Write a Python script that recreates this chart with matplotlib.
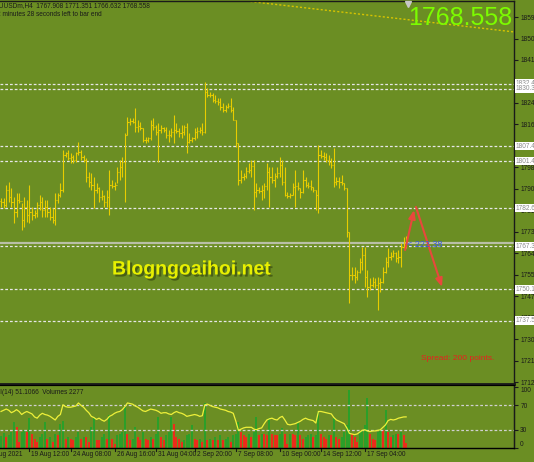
import matplotlib
matplotlib.use("Agg")
import numpy as np
import matplotlib.pyplot as plt
import matplotlib.patheffects as pe
from matplotlib.transforms import blended_transform_factory, offset_copy

# ---- data (XAUUSDm, H4) ----
bar_open = [
    1785.5, 1785.0, 1784.0, 1790.0, 1787.0, 1785.0, 1781.0, 1786.0, 1785.5, 1778.0,
    1783.0, 1780.0, 1781.0, 1780.0, 1780.5, 1784.0, 1785.0, 1782.0, 1783.0, 1781.0,
    1779.0, 1778.0, 1786.0, 1788.0, 1790.0, 1804.0, 1804.5, 1802.5, 1803.0, 1802.0,
    1804.5, 1805.0, 1803.0, 1802.0, 1795.0, 1793.0, 1792.0, 1790.0, 1790.5, 1787.0,
    1787.5, 1785.0, 1787.0, 1792.0, 1791.5, 1792.0, 1797.0, 1799.0, 1801.0, 1812.0,
    1817.0, 1817.5, 1817.0, 1815.0, 1815.5, 1814.5, 1810.0, 1810.0, 1810.5, 1816.0,
    1815.0, 1813.0, 1814.0, 1814.5, 1814.0, 1812.0, 1812.0, 1813.0, 1814.0, 1813.5,
    1812.5, 1813.0, 1815.0, 1809.0, 1810.0, 1810.5, 1813.0, 1813.5, 1814.0, 1813.0,
    1829.0, 1828.0, 1828.0, 1826.0, 1825.5, 1825.0, 1823.0, 1822.0, 1823.0, 1823.5,
    1822.0, 1818.0, 1808.5, 1794.0, 1795.0, 1795.5, 1797.5, 1798.0, 1799.5, 1789.0,
    1790.0, 1789.5, 1790.0, 1791.5, 1797.0, 1795.0, 1794.0, 1795.5, 1796.5, 1800.0,
    1793.0, 1788.0, 1787.5, 1788.0, 1791.0, 1791.5, 1790.5, 1789.0, 1794.0, 1792.0,
    1791.5, 1791.0, 1790.0, 1788.0, 1804.0, 1803.5, 1803.0, 1802.0, 1801.0, 1800.0,
    1793.0, 1793.5, 1793.0, 1792.5, 1790.5, 1773.0, 1756.0, 1756.0, 1755.0, 1757.0,
    1761.0, 1764.0, 1755.0, 1751.0, 1752.0, 1753.0, 1752.0, 1752.5, 1753.0, 1757.0,
    1761.0, 1763.0, 1763.5, 1764.5, 1762.5, 1763.0, 1767.0, 1767.908,
]
bar_high = [
    1786.5, 1786.5, 1791.8, 1793.1, 1790.5, 1787.1, 1788.5, 1788.5, 1784.5, 1787.1,
    1785.8, 1791.8, 1783.1, 1781.8, 1785.1, 1787.8, 1787.1, 1785.8, 1785.8, 1783.1,
    1782.5, 1788.5, 1788.5, 1792.5, 1805.8, 1805.1, 1805.8, 1804.5, 1803.8, 1805.1,
    1809.1, 1805.8, 1803.8, 1802.5, 1797.1, 1796.5, 1795.1, 1792.5, 1791.1, 1789.8,
    1787.8, 1789.8, 1797.8, 1793.8, 1793.1, 1799.1, 1801.8, 1803.1, 1812.5, 1819.1,
    1818.5, 1818.5, 1822.5, 1817.8, 1817.1, 1814.5, 1811.1, 1811.1, 1817.8, 1818.5,
    1815.8, 1816.5, 1815.8, 1815.1, 1815.1, 1813.8, 1814.5, 1819.8, 1816.5, 1814.5,
    1815.8, 1815.8, 1816.5, 1812.5, 1811.1, 1814.5, 1815.1, 1815.1, 1816.5, 1833.1,
    1830.5, 1829.1, 1828.5, 1827.8, 1826.5, 1826.5, 1824.5, 1823.8, 1824.5, 1826.5,
    1823.1, 1818.0, 1808.5, 1797.8, 1796.5, 1799.1, 1800.5, 1801.8, 1801.8, 1792.5,
    1791.1, 1791.8, 1792.5, 1800.5, 1799.1, 1799.1, 1796.5, 1799.1, 1803.1, 1801.8,
    1799.1, 1789.1, 1788.5, 1792.5, 1797.8, 1793.1, 1790.5, 1797.8, 1795.1, 1793.1,
    1793.8, 1791.1, 1789.8, 1807.8, 1805.8, 1805.1, 1804.5, 1803.8, 1802.5, 1806.5,
    1795.1, 1795.1, 1795.8, 1792.8, 1790.5, 1773.0, 1759.1, 1759.1, 1757.8, 1762.5,
    1767.1, 1767.1, 1757.8, 1754.5, 1755.1, 1754.5, 1755.1, 1754.5, 1759.1, 1763.1,
    1766.5, 1765.1, 1765.8, 1765.1, 1765.8, 1768.5, 1771.1, 1771.351,
]
bar_low = [
    1783.1, 1782.5, 1783.1, 1785.1, 1783.1, 1776.5, 1779.1, 1784.5, 1773.8, 1775.1,
    1777.1, 1776.5, 1777.8, 1778.5, 1779.1, 1781.8, 1779.1, 1779.1, 1779.1, 1777.8,
    1776.5, 1775.8, 1784.5, 1787.1, 1789.1, 1803.1, 1801.8, 1800.5, 1800.5, 1801.1,
    1803.8, 1801.8, 1801.1, 1793.1, 1791.1, 1789.8, 1782.5, 1788.5, 1785.1, 1785.8,
    1783.1, 1783.1, 1779.8, 1790.5, 1789.8, 1792.5, 1793.8, 1795.1, 1785.1, 1812.0,
    1815.8, 1816.5, 1813.1, 1813.1, 1813.8, 1809.1, 1808.5, 1809.1, 1809.8, 1813.8,
    1811.8, 1801.1, 1812.5, 1813.1, 1810.5, 1809.1, 1811.1, 1808.5, 1812.5, 1811.1,
    1810.5, 1811.8, 1804.5, 1808.5, 1809.1, 1809.8, 1810.5, 1812.5, 1811.8, 1812.5,
    1827.1, 1827.1, 1825.1, 1824.5, 1823.8, 1821.8, 1821.1, 1821.1, 1822.5, 1821.1,
    1817.8, 1807.1, 1791.8, 1792.5, 1793.8, 1794.5, 1796.5, 1795.1, 1781.8, 1787.1,
    1788.5, 1785.8, 1786.5, 1789.8, 1783.1, 1792.5, 1791.1, 1794.5, 1795.1, 1791.8,
    1787.5, 1786.5, 1786.5, 1787.8, 1783.1, 1789.8, 1786.5, 1788.5, 1791.1, 1790.5,
    1789.8, 1789.1, 1781.8, 1780.5, 1802.5, 1801.8, 1801.1, 1799.8, 1798.5, 1791.1,
    1791.8, 1790.5, 1791.8, 1789.8, 1771.1, 1744.5, 1753.8, 1752.5, 1753.8, 1756.5,
    1757.8, 1751.1, 1747.1, 1749.8, 1751.1, 1750.5, 1741.8, 1749.1, 1752.8, 1756.8,
    1759.1, 1761.8, 1763.1, 1761.1, 1760.5, 1759.1, 1766.5, 1766.632,
]
bar_close = [
    1785.0, 1784.0, 1790.0, 1787.0, 1785.0, 1781.0, 1786.0, 1785.5, 1778.0, 1783.0,
    1780.0, 1781.0, 1780.0, 1780.5, 1784.0, 1785.0, 1782.0, 1783.0, 1781.0, 1779.0,
    1778.0, 1786.0, 1788.0, 1790.0, 1804.0, 1804.5, 1802.5, 1803.0, 1802.0, 1804.5,
    1805.0, 1803.0, 1802.0, 1795.0, 1793.0, 1792.0, 1790.0, 1790.5, 1787.0, 1787.5,
    1785.0, 1787.0, 1792.0, 1791.5, 1792.0, 1797.0, 1799.0, 1801.0, 1812.0, 1817.0,
    1817.5, 1817.0, 1815.0, 1815.5, 1814.5, 1810.0, 1810.0, 1810.5, 1816.0, 1815.0,
    1813.0, 1814.0, 1814.5, 1814.0, 1812.0, 1812.0, 1813.0, 1814.0, 1813.5, 1812.5,
    1813.0, 1815.0, 1809.0, 1810.0, 1810.5, 1813.0, 1813.5, 1814.0, 1813.0, 1829.0,
    1828.0, 1828.0, 1826.0, 1825.5, 1825.0, 1823.0, 1822.0, 1823.0, 1823.5, 1822.0,
    1818.0, 1808.5, 1794.0, 1795.0, 1795.5, 1797.5, 1798.0, 1799.5, 1789.0, 1790.0,
    1789.5, 1790.0, 1791.5, 1797.0, 1795.0, 1794.0, 1795.5, 1796.5, 1800.0, 1793.0,
    1788.0, 1787.5, 1788.0, 1791.0, 1791.5, 1790.5, 1789.0, 1794.0, 1792.0, 1791.5,
    1791.0, 1790.0, 1788.0, 1804.0, 1803.5, 1803.0, 1802.0, 1801.0, 1800.0, 1793.0,
    1793.5, 1793.0, 1792.5, 1790.5, 1773.0, 1756.0, 1756.0, 1755.0, 1757.0, 1761.0,
    1764.0, 1755.0, 1751.0, 1752.0, 1753.0, 1752.0, 1752.5, 1753.0, 1757.0, 1761.0,
    1763.0, 1763.5, 1764.5, 1762.5, 1763.0, 1767.0, 1767.908, 1768.558,
]
volumes = [
    5810, 7260, 5320, 6290, 7740, 12580, 10160, 2900, 7740, 8710,
    7740, 14520, 6780, 4360, 2900, 5320, 6780, 12580, 4360, 5320,
    2900, 6780, 6290, 11620, 13070, 4360, 5320, 4360, 3870, 5320,
    7740, 4360, 5320, 5320, 2900, 10160, 14520, 3870, 3870, 5320,
    6780, 4360, 15970, 4360, 1940, 6290, 6780, 7740, 19840, 6780,
    3870, 4360, 10160, 5320, 3870, 7740, 4360, 3870, 5320, 4360,
    6780, 15000, 5320, 3870, 6290, 7740, 15000, 11620, 5320, 4360,
    2900, 3870, 6290, 6780, 11130, 4360, 3870, 4360, 2900, 21780,
    3870, 4360, 3870, 5320, 3870, 6290, 3870, 4360, 5320, 2900,
    6290, 6780, 12580, 7740, 6290, 5320, 6780, 5320, 7740, 15000,
    6290, 6780, 6780, 6290, 14520, 6780, 6290, 6290, 6780, 9680,
    6780, 1940, 6780, 6780, 6290, 12580, 6290, 4360, 5320, 6290,
    6780, 5320, 6290, 17420, 6780, 5320, 4360, 6290, 6290, 14520,
    5320, 4360, 5320, 7740, 11130, 28070, 6780, 5320, 2900, 7740,
    8710, 11130, 24200, 6780, 4360, 3870, 7740, 9200, 8710, 18390,
    7740, 5320, 6290, 6780, 6780, 7740, 6290, 2277,
]
rsi = [
    60, 62, 64, 62, 58, 60, 63, 60, 55, 58,
    60, 58, 56, 51, 49, 54, 57, 55, 54, 52,
    49, 46, 52, 55, 71, 68, 67, 67, 68, 69,
    74, 70, 67, 62, 58, 52, 50, 47, 49, 46,
    44, 47, 52, 54, 57, 59, 60, 63, 68, 74,
    73, 72, 69, 67, 64, 61, 60, 62, 64, 63,
    62, 60, 57, 58, 58, 56, 55, 58, 60, 58,
    57, 55, 52, 53, 54, 55, 54, 52, 53, 71,
    72, 70, 68, 67, 66, 64, 63, 62, 60, 59,
    57, 44, 29, 31, 33, 34, 34, 34, 31, 30,
    32, 33, 40, 46, 48, 49, 47, 46, 50, 52,
    46, 39, 38, 39, 40, 42, 44, 47, 49, 47,
    46, 45, 41, 60, 60, 59, 58, 57, 56, 50,
    46, 44, 42, 40, 33, 24, 23, 22, 23, 26,
    29, 30, 28, 27, 28, 28, 29, 30, 34, 38,
    45, 47, 46, 47, 49, 50, 51, 51.1066,
]
level_prices = [1832.4, 1830.3, 1807.4, 1801.4, 1782.6, 1767.3, 1750.1, 1737.5]
price_ticks = [1859.0, 1850.4, 1841.9, 1833.3, 1824.7, 1816.1, 1807.5, 1798.9, 1790.3,
               1781.7, 1773.1, 1764.5, 1755.9, 1747.3, 1738.7, 1730.1, 1721.5, 1712.9]
time_bars = [-6.5, 11, 27, 44, 60, 75, 91, 108, 124, 141]
time_labels = ["18 Aug 2021", "19 Aug 12:00", "24 Aug 08:00", "26 Aug 16:00",
               "31 Aug 04:00", "2 Sep 20:00", "7 Sep 08:00", "10 Sep 00:00",
               "14 Sep 12:00", "17 Sep 04:00"]
bid = 1768.558
trade_pips = "222.38"
trend_x, trend_y = [95.0, 199.0], [1865.4, 1853.0]
arrow_up = ((156.6, 1765.8), (160.1, 1781.8))
arrow_down = ((160.8, 1783.0), (170.9, 1751.0))

BG = "#6b8e23"
BAR = "#e8cc00"
DARK = "#1a1a1a"
FONT = "Liberation Sans"
SMALL = 4.7

W, H = 534, 462
fig = plt.figure(figsize=(W / 100, H / 100), dpi=100)
fig.patch.set_facecolor(BG)


def fx(x):
    return x / W


def fy(y):
    return 1 - y / H


ax = fig.add_axes([0, fy(384), fx(514), 383 / H])
axs = fig.add_axes([0, fy(448), fx(514), 63 / H], sharex=ax)
for a in (ax, axs):
    a.set_facecolor(BG)
    a.spines["left"].set_visible(False)
    for s in ("top", "right", "bottom"):
        a.spines[s].set_color(DARK)
        a.spines[s].set_linewidth(1.0)
ax.spines["bottom"].set_linewidth(2.0)
axs.spines["top"].set_linewidth(1.5)

n = len(bar_close)
x = np.arange(n)
ax.set_xlim(-0.4, 198.8)
ax.set_ylim(1712.2, 1865.4)

# levels and bid line
for p in level_prices:
    ax.axhline(p, color="#e6e6e6", lw=0.9, ls=(0, (2.2, 1.6)), zorder=1)
ax.axhline(bid, color="#b9bfa6", lw=1.6, zorder=1)

# OHLC bars
ax.vlines(x, bar_low, bar_high, color=BAR, lw=0.8, zorder=3)
ax.hlines(bar_open, x - 0.45, x, color=BAR, lw=0.8, zorder=3)
ax.hlines(bar_close, x, x + 0.45, color=BAR, lw=0.8, zorder=3)

# trend line and shift marker
ax.plot(trend_x, trend_y, color="#d8c400", lw=1.0, ls=(0, (1.5, 1.5)), zorder=2)
ax.plot([157.6], [1864.4], marker="v", ms=4, color="#c8c8c8", zorder=4, clip_on=False)

# arrows
for (s, e) in (arrow_up, arrow_down):
    ax.annotate("", xy=e, xytext=s,
                arrowprops=dict(arrowstyle="-|>,head_length=0.5,head_width=0.2",
                                color="#e8483c", lw=1.5, shrinkA=0, shrinkB=0),
                zorder=5)
ax.text(157.2, bid - 0.6, "< " + trade_pips, color="#3a5ae0", fontsize=6.5,
        family=FONT, va="center", ha="left", zorder=6)

# price axis
ax.yaxis.tick_right()
ax.set_yticks(price_ticks)
ax.set_yticklabels([f"{t:.1f}" for t in price_ticks], family=FONT)
ax.tick_params(axis="y", direction="out", length=3, width=0.8, colors=DARK,
               labelsize=SMALL, pad=1.5)
ax.tick_params(axis="x", bottom=False, labelbottom=False)

ytr = blended_transform_factory(ax.transAxes, ax.transData)
for p in level_prices:
    ax.text(1.003, p, f"{p:.1f}", transform=ytr, fontsize=SMALL, family=FONT,
            color="#8a8a8a", va="center", ha="left", clip_on=False, zorder=6,
            bbox=dict(facecolor="white", edgecolor="none", pad=0.7))

# volumes
vol_colors = ["#2aa02a"] + ["#2aa02a" if volumes[i] > volumes[i - 1] else "#f02a1a"
                            for i in range(1, n)]
axs.vlines(x, 0, volumes, color=vol_colors, lw=1.4)
axs.set_ylim(0, 30500)
axs.set_yticks([])
axs.tick_params(axis="x", bottom=False, labelbottom=False)

# rsi
ar = axs.twinx()
ar.set_ylim(0.65, 103.5)
for lvl in (70, 30):
    ar.axhline(lvl, color="#d0d0d0", lw=0.9, ls=(0, (2.2, 1.6)))
ar.plot(x, rsi, color="#eef03a", lw=0.9)
ar.set_yticks([100, 70, 30, 0])
ar.set_yticklabels(["100", "70", "30", "0"], family=FONT)
ar.tick_params(axis="y", direction="out", length=3, width=0.8, colors=DARK,
               labelsize=SMALL, pad=1.5)
labs = ar.get_yticklabels()
labs[0].set_va("top")
labs[-1].set_va("bottom")
ar.spines["left"].set_visible(False)
ar.spines["right"].set_color(DARK)

# time axis
xtr = blended_transform_factory(axs.transData, axs.transAxes)
ttr = offset_copy(xtr, fig=fig, x=1.5, y=-2, units="points")
for b, lab in zip(time_bars, time_labels):
    axs.plot([b, b], [0, -0.04], transform=xtr, color=DARK, lw=0.8, clip_on=False)
    axs.text(b, 0, lab, transform=ttr, fontsize=SMALL, family=FONT, color=DARK,
             ha="left", va="top", clip_on=False)

# texts
fig.text(fx(-10), fy(6), "XAUUSDm,H4  1767.908 1771.351 1766.632 1768.558",
         fontsize=SMALL, family=FONT, color=DARK, va="center")
fig.text(fx(-3), fy(15), "2 minutes 28 seconds left to bar end",
         fontsize=SMALL, family=FONT, color=DARK, va="center")
fig.text(fx(-9), fy(392), "RSI(14) 51.1066  Volumes 2277",
         fontsize=SMALL, family=FONT, color=DARK, va="center")
fig.text(fx(512), fy(18), "1768.558", ha="right", va="center", fontsize=18,
         color="#7cfc00", family=FONT)
fig.text(fx(112), fy(270), "Blogngoaihoi.net", ha="left", va="center",
         fontsize=14, fontweight="bold", color="#e8f000", family=FONT,
         path_effects=[pe.withSimplePatchShadow(offset=(1.5, -1.5),
                                                shadow_rgbFace="#3a4a10", alpha=0.7)])
fig.text(fx(421), fy(359), "Spread: 200 points.", ha="left", va="center",
         fontsize=6, color="#e8201e", family=FONT)

fig.savefig("out.png", dpi=100, facecolor=BG)
